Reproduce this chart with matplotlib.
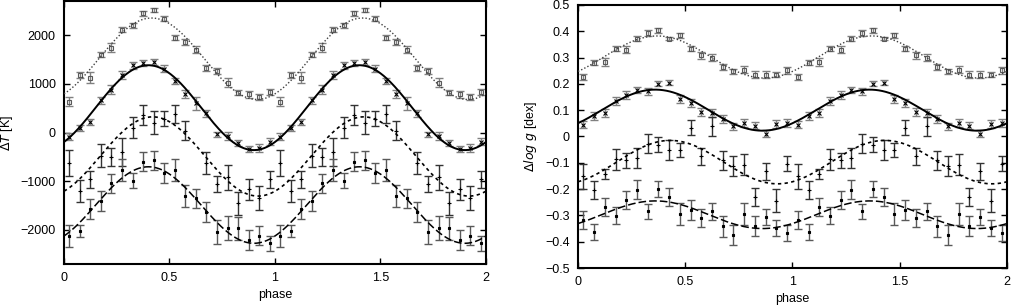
import numpy as np
import matplotlib.pyplot as plt

plt.rcParams['font.family'] = ['Liberation Sans', 'DejaVu Sans']
plt.rcParams['mathtext.fontset'] = 'dejavusans'

# phase bins (one cycle, plotted twice)
phase = [0.025, 0.075, 0.125, 0.175, 0.225, 0.275, 0.325, 0.375, 0.425, 0.475,
         0.525, 0.575, 0.625, 0.675, 0.725, 0.775, 0.825, 0.875, 0.925, 0.975]

# left panel: delta T [K]
dT1 = [632, 1180, 1132, 1604, 1740, 2117, 2205, 2457, 2513, 2342,
       1953, 1863, 1707, 1330, 1268, 1022, 816, 784, 735, 837]
dT1_err = [95, 60, 113, 58, 92, 58, 48, 51, 38, 48,
           58, 68, 68, 58, 55, 92, 51, 65, 68, 68]
dT2 = [-86, 98, 222, 667, 886, 1180, 1385, 1432, 1453, 1317,
       1057, 790, 599, 394, -37, -72, -209, -338, -312, -189]
dT2_err = [75, 58, 68, 75, 85, 78, 68, 58, 58, 68,
           58, 85, 130, 68, 58, 75, 62, 68, 78, 75]
dT3 = [-619, -1200, -960, -475, -496, -393, 100, 360, 208, 290,
       380, 40, np.nan, -620, -1056, -920, -1452, -1166, -1337, -960]
dT3_err = [270, 220, 180, 240, 180, 290, 220, 210, 240, 150,
           190, 190, 0, 220, 170, 260, 240, 210, 250, 170]
dT4 = [-2123, -2020, -1576, -1405, -1043, -770, -988, -598, -564, -838,
       -770, -1303, -1350, -1624, -2034, -1966, -1966, -2205, -2117, -2274]
dT4_err = [220, 130, 205, 205, 190, 220, 150, 195, 195, 205,
           230, 220, 190, 205, 245, 245, 240, 200, 190, 155]

# right panel: delta log g [dex]
dg1 = [0.225, 0.280, 0.282, 0.334, 0.330, 0.372, 0.394, 0.404, 0.371, 0.384,
       0.334, 0.308, 0.299, 0.265, 0.248, 0.254, 0.235, 0.235, 0.235, 0.252]
dg1_err = [0.011, 0.0095, 0.016, 0.011, 0.014, 0.011, 0.011, 0.010, 0.006, 0.0095,
           0.011, 0.013, 0.013, 0.012, 0.0095, 0.013, 0.013, 0.013, 0.009, 0.013]
dg2 = [0.045, 0.077, 0.089, 0.134, 0.159, 0.178, 0.172, 0.201, 0.204, 0.143,
       0.128, 0.093, 0.089, 0.068, 0.038, 0.051, 0.041, 0.011, 0.049, 0.051]
dg2_err = [0.013, 0.015, 0.015, 0.016, 0.015, 0.011, 0.013, 0.0095, 0.010, 0.015,
           0.015, 0.015, 0.015, 0.015, 0.013, 0.015, 0.014, 0.013, 0.015, 0.015]
dg3 = [-0.152, -0.203, -0.142, -0.086, -0.091, -0.082, -0.027, -0.031, -0.050, -0.050,
       0.034, -0.076, 0.038, -0.091, -0.114, -0.107, -0.230, -0.133, -0.244, -0.104]
dg3_err = [0.048, 0.035, 0.020, 0.040, 0.030, 0.038, 0.035, 0.028, 0.038, 0.027,
           0.030, 0.032, 0.037, 0.036, 0.038, 0.041, 0.036, 0.034, 0.043, 0.029]
dg4 = [-0.317, -0.363, -0.268, -0.301, -0.243, -0.202, -0.285, -0.200, -0.230, -0.294,
       -0.279, -0.310, -0.285, -0.342, -0.374, -0.295, -0.340, -0.306, -0.348, -0.367]
dg4_err = [0.034, 0.029, 0.033, 0.032, 0.034, 0.036, 0.027, 0.030, 0.034, 0.041,
           0.037, 0.036, 0.032, 0.039, 0.039, 0.043, 0.038, 0.032, 0.032, 0.030]

# model curves: mean, amplitude, phase of maximum
dT_mean = [1518, 513, -490, -1488]
dT_amp = [837, 872, 814, 786]
dT_peak = [0.415, 0.40, 0.42, 0.40]
dg_mean = [0.302, 0.100, -0.0975, -0.2975]
dg_amp = [0.080, 0.078, 0.0825, 0.0525]
dg_peak = [0.37, 0.36, 0.43, 0.36]

# styles per series: marker, face, marker size, bar colour
marks = [('s', 'none', 3.2, '0.5'), ('x', 'k', 3.0, '0.5'),
         ('+', 'k', 3.5, '0.2'), ('s', 'k', 2.0, '0.35')]
# line style, width, colour
lines = [((0, (1, 1.5)), 1.0, '0.25'), ('-', 1.4, 'k'),
         ((0, (2, 2)), 1.2, 'k'), ((0, (5, 2)), 1.1, 'k')]

fig = plt.figure(figsize=(10.11, 3.07), dpi=100)
ax1 = fig.add_axes([0.0633, 0.140, 0.4174, 0.856])
ax2 = fig.add_axes([0.5717, 0.127, 0.4243, 0.857])

ph = np.array(phase)
x2 = np.concatenate([ph, ph + 1])
grid = np.linspace(0, 2, 500)


def draw(ax, series, errs, means, amps, peaks):
    for i in range(4):
        y = np.tile(np.array(series[i], dtype=float), 2)
        e = np.tile(np.array(errs[i], dtype=float), 2)
        m, fc, ms, bc = marks[i]
        ax.errorbar(x2, y, yerr=e, fmt='none', ecolor=bc, elinewidth=1.0,
                    capsize=3, capthick=1.0, zorder=2)
        ax.plot(x2, y, linestyle='none', marker=m, markersize=ms,
                markerfacecolor=fc, markeredgecolor='k' if i else '0.35',
                markeredgewidth=0.8, zorder=3)
        ls, lw, lc = lines[i]
        ax.plot(grid, means[i] + amps[i] * np.cos(2 * np.pi * (grid - peaks[i])),
                linestyle=ls, linewidth=lw, color=lc, zorder=4)
    ax.set_xlim(0, 2)
    ax.set_xticks([0, 0.5, 1, 1.5, 2])
    ax.set_xticklabels(['0', '0.5', '1', '1.5', '2'])
    ax.tick_params(direction='in', top=True, right=True, length=4,
                   width=1, labelsize=9, pad=6)
    for sp in ax.spines.values():
        sp.set_linewidth(1.5)
    ax.set_xlabel('phase', fontsize=9, labelpad=3)


draw(ax1, [dT1, dT2, dT3, dT4], [dT1_err, dT2_err, dT3_err, dT4_err],
     dT_mean, dT_amp, dT_peak)
ax1.set_ylim(-2700, 2700)
ax1.set_yticks([-2000, -1000, 0, 1000, 2000])
ax1.set_ylabel(r'$\Delta T$ [K]', fontsize=9, labelpad=4)

draw(ax2, [dg1, dg2, dg3, dg4], [dg1_err, dg2_err, dg3_err, dg4_err],
     dg_mean, dg_amp, dg_peak)
ax2.set_ylim(-0.5, 0.5)
ax2.set_yticks([-0.5, -0.4, -0.3, -0.2, -0.1, 0, 0.1, 0.2, 0.3, 0.4, 0.5])
ax2.set_yticklabels(['\u22120.5', '\u22120.4', '\u22120.3', '\u22120.2', '\u22120.1',
                     '0', '0.1', '0.2', '0.3', '0.4', '0.5'])
ax2.set_ylabel(r'$\Delta \mathit{log\ g}$ [dex]', fontsize=9, labelpad=4)

plt.savefig('out.png', dpi=100)
